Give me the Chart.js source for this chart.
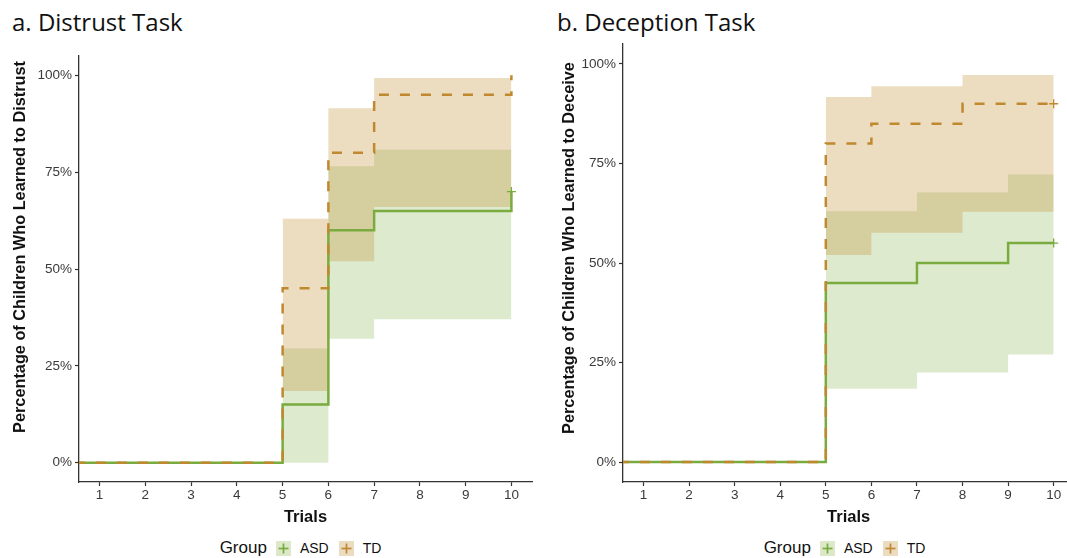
<!DOCTYPE html>
<html>
<head>
<meta charset="utf-8">
<script src="https://cdn.jsdelivr.net/npm/chart.js@4.4.1/dist/chart.umd.min.js"></script>
<style>
  body { margin: 0; width: 1067px; height: 558px; overflow: hidden; background: #fff; position: relative; font-family: "Liberation Sans", Arial, sans-serif; }
  canvas { position: absolute; top: 0; }
  .title { position: absolute; top: 7px; font-family: "Open Sans", "Noto Sans", sans-serif; font-size: 24px; line-height: 30px; color: #111; white-space: nowrap; }
  .ytitle { position: absolute; width: 420px; height: 20px; line-height: 20px; text-align: center; font-size: 16.3px; font-weight: bold; color: #111; white-space: nowrap; transform: translate(-50%, -50%) rotate(-90deg); }
  .legend { position: absolute; top: 538px; height: 20px; display: flex; align-items: center; justify-content: center; color: #111; white-space: nowrap; }
  .legend .lab { font-size: 17px; margin-right: 9px; }
  .legend .item { font-size: 14px; margin: 0 10px 0 9px; }
  .legend svg { display: block; }
</style>
</head>
<body>
<div class="title" style="left:12px">a. Distrust Task</div>
<div class="title" style="left:557px">b. Deception Task</div>
<canvas id="distrustChart" width="540" height="530" style="left:0"></canvas>
<canvas id="deceptionChart" width="540" height="530" style="left:540px"></canvas>
<div class="ytitle" style="left:19px; top:247px">Percentage of Children Who Learned to Distrust</div>
<div class="ytitle" style="left:568px; top:248px">Percentage of Children Who Learned to Deceive</div>
<div class="legend" id="legendA" style="left:79px; width:453px"></div>
<div class="legend" id="legendB" style="left:623px; width:453px"></div>

<script>
// eixos
var trials = [1, 2, 3, 4, 5, 6, 7, 8, 9, 10];
var yTicks = [0, 25, 50, 75, 100];
var groups = ['ASD', 'TD'];

// a. Distrust Task (curvas)
var distrustAsdX = [0, 5, 6, 7, 10];
var distrustAsdY = [0, 15, 60, 65, 70];
var distrustTdX = [0, 5, 6, 7, 10];
var distrustTdY = [0, 45, 80, 95, 100];
// a. intervalos de confiança
var distrustBandX = [5, 6, 7, 10];
var distrustAsdLow = [0, 32, 37, 37];
var distrustAsdHigh = [29.5, 76.5, 80.8, 80.8];
var distrustTdLow = [18.5, 52, 66, 66];
var distrustTdHigh = [63, 91.5, 99.3, 99.3];

// b. Deception Task (curvas)
var deceptionAsdX = [0, 5, 7, 9, 10];
var deceptionAsdY = [0, 45, 50, 55, 55];
var deceptionTdX = [0, 5, 6, 8, 10];
var deceptionTdY = [0, 80, 85, 90, 90];
// b. intervalos de confiança
var deceptionBandX = [5, 6, 7, 8, 9, 10];
var deceptionAsdLow = [18.4, 18.4, 22.5, 22.5, 27, 27];
var deceptionAsdHigh = [63, 63, 67.7, 67.7, 72.2, 72.2];
var deceptionTdLow = [52, 57.6, 57.6, 62.9, 62.9, 62.9];
var deceptionTdHigh = [91.7, 94.4, 94.4, 97.2, 97.2, 97.2];

var asdLine = '#7aab3f';
var tdLine = '#c0882f';
var asdFill = 'rgba(122,171,60,0.25)';
var tdFill = 'rgba(192,138,48,0.30)';

function pts(xs, ys) {
    return xs.map(function(x, i) { return { x: x, y: ys[i] }; });
}

function band(xs, lo, hi, color, ord) {
    return [
        { data: pts(xs, hi), stepped: true, borderWidth: 0, pointRadius: 0, fill: '+1', backgroundColor: color, order: ord },
        { data: pts(xs, lo), stepped: true, borderWidth: 0, pointRadius: 0, fill: false, order: ord }
    ];
}

// censor = tamanho do "+" no último ponto
function curve(xs, ys, color, dash, ord, censor) {
    var last = xs.length - 1;
    return {
        data: pts(xs, ys), stepped: true, fill: false,
        borderColor: color, borderWidth: 2.5, borderDash: dash, order: ord,
        pointStyle: 'cross', pointBorderColor: color, pointBorderWidth: 1.3,
        pointRadius: function(ctx) { return ctx.dataIndex === last ? censor : 0; }
    };
}

function makeChart(id, yWidth, padTop, padRight, datasets) {
    return new Chart(document.getElementById(id), {
        type: 'line',
        data: { datasets: datasets },
        options: {
            responsive: false,
            animation: false,
            layout: { padding: { top: padTop, right: padRight, left: 0, bottom: 0 } },
            plugins: { legend: { display: false }, tooltip: { enabled: false } },
            scales: {
                x: {
                    type: 'linear', min: 0.55, max: 10.45,
                    afterBuildTicks: function(s) { s.ticks = trials.map(function(v) { return { value: v }; }); },
                    afterFit: function(s) { s.height = 48; },
                    grid: { drawOnChartArea: false, tickLength: 4, tickColor: '#333', tickWidth: 1.2 },
                    border: { color: '#333', width: 1.3 },
                    ticks: { color: '#3a3a3a', font: { family: 'Liberation Sans', size: 13.5 }, padding: 1, maxRotation: 0, autoSkip: false },
                    title: { display: true, text: 'Trials', color: '#111', font: { family: 'Liberation Sans', size: 16.5, weight: 'bold' }, padding: { top: 0, bottom: 3 } }
                },
                y: {
                    min: -5, max: 105,
                    afterBuildTicks: function(s) { s.ticks = yTicks.map(function(v) { return { value: v }; }); },
                    afterFit: function(s) { s.width = yWidth; },
                    grid: { drawOnChartArea: false, tickLength: 4, tickColor: '#333', tickWidth: 1.2 },
                    border: { color: '#333', width: 1.3 },
                    ticks: { color: '#3a3a3a', font: { family: 'Liberation Sans', size: 13.5 }, padding: 3, callback: function(v) { return v + '%'; } }
                }
            }
        }
    });
}

makeChart('distrustChart', 79, 56, 8, [].concat(
    [curve(distrustAsdX, distrustAsdY, asdLine, [], 2, 4.5), curve(distrustTdX, distrustTdY, tdLine, [10, 11], 1, 0)],
    band(distrustBandX, distrustAsdLow, distrustAsdHigh, asdFill, 6),
    band(distrustBandX, distrustTdLow, distrustTdHigh, tdFill, 5)
));

makeChart('deceptionChart', 83, 44, 4, [].concat(
    [curve(deceptionAsdX, deceptionAsdY, asdLine, [], 2, 4.5), curve(deceptionTdX, deceptionTdY, tdLine, [10, 11], 1, 4.5)],
    band(deceptionBandX, deceptionAsdLow, deceptionAsdHigh, asdFill, 6),
    band(deceptionBandX, deceptionTdLow, deceptionTdHigh, tdFill, 5)
));

// legenda em HTML
function icon(bg, fg) {
    return '<svg width="15" height="15"><rect width="15" height="15" fill="' + bg + '"/>' +
        '<line x1="2.5" y1="7.5" x2="12.5" y2="7.5" stroke="' + fg + '" stroke-width="1.7"/>' +
        '<line x1="7.5" y1="2.5" x2="7.5" y2="12.5" stroke="' + fg + '" stroke-width="1.7"/></svg>';
}
var legendHtml = '<span class="lab">Group</span>' +
    icon('#dde8c9', asdLine) + '<span class="item">' + groups[0] + '</span>' +
    icon('#ebdbc0', tdLine) + '<span class="item">' + groups[1] + '</span>';
document.getElementById('legendA').innerHTML = legendHtml;
document.getElementById('legendB').innerHTML = legendHtml;
</script>
</body>
</html>
